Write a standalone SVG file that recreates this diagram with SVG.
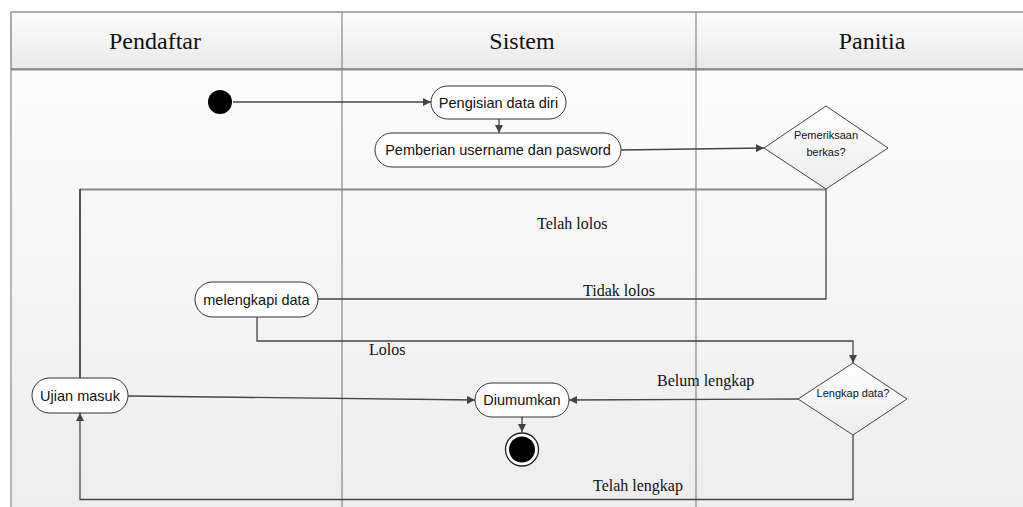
<svg xmlns="http://www.w3.org/2000/svg" width="1023" height="507" viewBox="0 0 1023 507">
<defs>
<linearGradient id="hdr" x1="0" y1="0" x2="0" y2="1"><stop offset="0" stop-color="#fdfdfd"/><stop offset="1" stop-color="#e9e9e9"/></linearGradient>
<linearGradient id="lane" x1="0" y1="0" x2="0" y2="1"><stop offset="0" stop-color="#fcfcfc"/><stop offset="1" stop-color="#ededed"/></linearGradient>
<linearGradient id="dia" x1="0" y1="0" x2="0" y2="1"><stop offset="0" stop-color="#ffffff"/><stop offset="1" stop-color="#ececec"/></linearGradient>
<marker id="arr" viewBox="0 0 10 10" refX="10" refY="5" markerWidth="8" markerHeight="8" markerUnits="userSpaceOnUse" orient="auto"><path d="M0,0 L10,5 L0,10 z" fill="#444"/></marker>
<style>
.hd{font-family:"Liberation Serif","Times New Roman",serif;font-size:24px;fill:#111;text-anchor:middle}
.lb{font-family:"Liberation Serif","Times New Roman",serif;font-size:16px;fill:#111}
.nt{font-family:"Liberation Sans",Arial,sans-serif;font-size:14.5px;fill:#111;text-anchor:middle}
.st{font-family:"Liberation Sans",Arial,sans-serif;font-size:11px;fill:#111;text-anchor:middle}
.node{fill:#fff;stroke:#333;stroke-width:1}
.dm{fill:url(#dia);stroke:#444;stroke-width:1}
.cn{fill:none;stroke:#444;stroke-width:1.3}
.lane{stroke:#888;stroke-width:1.2}
</style>
</defs>
<g id="swimlanes">
<rect x="11" y="69" width="1030" height="450" fill="url(#lane)" stroke="#888" stroke-width="1.2"/>
<rect x="11" y="12" width="1030" height="57" fill="url(#hdr)" stroke="#777" stroke-width="1.2"/>
<line x1="11" y1="69.5" x2="1023" y2="69.5" stroke="#888" stroke-width="2"/>
<line class="lane" x1="342" y1="12" x2="342" y2="507"/>
<line class="lane" x1="696" y1="12" x2="696" y2="507"/>
<text class="hd" x="155" y="49">Pendaftar</text>
<text class="hd" x="522" y="49">Sistem</text>
<text class="hd" x="872" y="49">Panitia</text>
</g>
<g id="connectors">
<line class="cn" x1="233" y1="102" x2="431" y2="102" marker-end="url(#arr)"/>
<line class="cn" x1="499" y1="119" x2="499" y2="133" marker-end="url(#arr)"/>
<line class="cn" x1="621" y1="150" x2="764" y2="148" marker-end="url(#arr)"/>
<polyline fill="none" stroke="#888" stroke-width="1.8" points="826,189.5 80,189.5"/>
<line stroke="#111" stroke-width="1.4" x1="80" y1="189" x2="80" y2="378"/>
<polyline class="cn" points="826,189 826,299 318,299"/>
<polyline class="cn" points="257,317 257,341 853,341 853,363" marker-end="url(#arr)"/>
<line class="cn" x1="798" y1="399" x2="569" y2="400" marker-end="url(#arr)"/>
<line class="cn" x1="128" y1="396" x2="475" y2="400" marker-end="url(#arr)"/>
<line class="cn" x1="522" y1="417" x2="522" y2="432" marker-end="url(#arr)"/>
<polyline class="cn" points="853,435 853,499.5 80,499.5 80,413" marker-end="url(#arr)"/>
<text class="lb" x="537" y="229">Telah lolos</text>
<text class="lb" x="583" y="296">Tidak lolos</text>
<text class="lb" x="369" y="355">Lolos</text>
<text class="lb" x="657" y="386">Belum lengkap</text>
<text class="lb" x="593" y="491">Telah lengkap</text>
</g>
<g id="start"><circle cx="220" cy="102" r="12" fill="#000"/></g>
<g id="pengisian"><rect class="node" x="431" y="86" width="135" height="33" rx="16.5"/><text class="nt" x="498.5" y="107.5">Pengisian data diri</text></g>
<g id="pemberian"><rect class="node" x="375" y="133" width="246" height="34" rx="17"/><text class="nt" x="498" y="155">Pemberian username dan pasword</text></g>
<g id="pemeriksaan"><polygon class="dm" points="764,148 826,106 888,148 826,189"/><text class="st" x="826" y="139">Pemeriksaan</text><text class="st" x="826" y="156">berkas?</text></g>
<g id="melengkapi"><rect class="node" x="195" y="282" width="123" height="35" rx="17.5"/><text class="nt" x="256.5" y="304.5">melengkapi data</text></g>
<g id="lengkap"><polygon class="dm" points="798,399 853,363 907,399 853,435"/><text class="st" x="853" y="397">Lengkap data?</text></g>
<g id="ujian"><rect class="node" x="32" y="378" width="96" height="35" rx="17.5"/><text class="nt" x="80" y="400.5">Ujian masuk</text></g>
<g id="diumumkan"><rect class="node" x="475" y="383" width="94" height="34" rx="17"/><text class="nt" x="522" y="405">Diumumkan</text></g>
<g id="end"><circle cx="522" cy="449.5" r="16.5" fill="#fff" stroke="#222" stroke-width="1.3"/><circle cx="522" cy="449.5" r="13" fill="#000"/></g>
</svg>
